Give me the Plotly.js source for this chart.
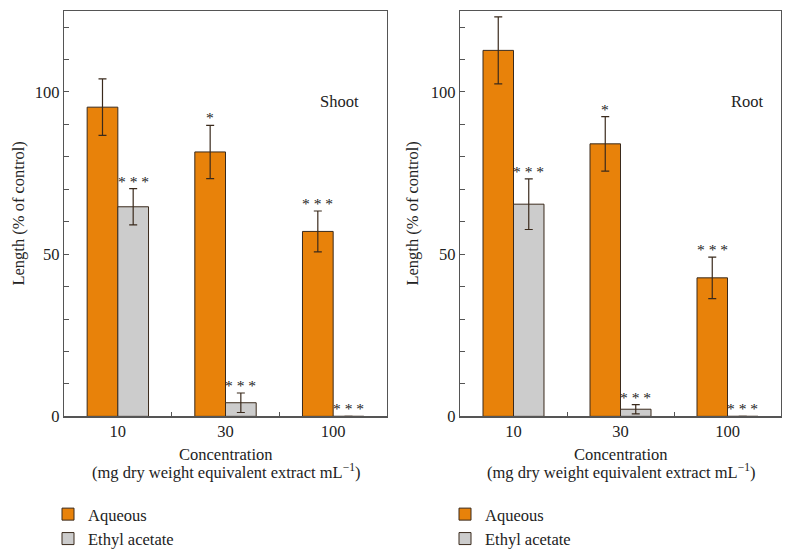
<!DOCTYPE html>
<html>
<head>
<meta charset="utf-8">
<script src="https://cdn.plot.ly/plotly-3.0.1.min.js"></script>
<style>
  html, body { margin: 0; padding: 0; background: #fff; }
  #graph { width: 791px; height: 556px; }
</style>
</head>
<body>
<div id="graph"></div>
<script>
const concentrations = ['10', '30', '100'];

// Shoot panel
const shootAqueous = [95.3, 81.5, 57.0];
const shootAqueousErr = [8.7, 8.2, 6.3];
const shootEthyl = [64.6, 4.2, 0];
const shootEthylErr = [5.6, 3.0, 0];
const shootAqueousSig = ['', '*', '* * *'];
const shootEthylSig = ['* * *', '* * *', '* * *'];

// Root panel
const rootAqueous = [112.8, 84.0, 42.7];
const rootAqueousErr = [10.3, 8.4, 6.4];
const rootEthyl = [65.4, 2.2, 0];
const rootEthylErr = [7.8, 1.4, 0];
const rootAqueousSig = ['', '*', '* * *'];
const rootEthylSig = ['* * *', '* * *', '* * *'];

const orange = '#E8820A';
const grey = '#CCCCCC';
const edge = '#3a2a1c';
const axisColor = '#555555';
const fontFamily = 'Liberation Serif, Times New Roman, serif';
const fs = 16.5;

const bargap = 0.43;
const barOffset = (1 - bargap) / 4;

function barTrace(name, values, errs, fill, xa, ya, legend) {
	return {
		type: 'bar',
		name: name,
		x: concentrations,
		y: values,
		xaxis: xa,
		yaxis: ya,
		legend: legend,
		marker: { color: fill, line: { color: edge, width: 1 } },
		error_y: { type: 'data', array: errs, visible: true, color: edge, thickness: 1.2, width: 4 }
	};
}

const data = [
	barTrace('Aqueous', shootAqueous, shootAqueousErr, orange, 'x', 'y', 'legend'),
	barTrace('Ethyl acetate', shootEthyl, shootEthylErr, grey, 'x', 'y', 'legend'),
	barTrace('Aqueous', rootAqueous, rootAqueousErr, orange, 'x2', 'y2', 'legend2'),
	barTrace('Ethyl acetate', rootEthyl, rootEthylErr, grey, 'x2', 'y2', 'legend2')
];

function starNotes(sig, values, errs, side, xref, yref) {
	return sig.map((s, i) => ({
		text: s,
		xref: xref,
		yref: yref,
		x: i + side * barOffset,
		y: values[i] + errs[i],
		xanchor: 'center',
		yanchor: 'bottom',
		yshift: -3,
		showarrow: false,
		font: { family: fontFamily, size: 15.5, color: '#222' }
	})).filter(a => a.text !== '');
}

const annotations = [
	...starNotes(shootAqueousSig, shootAqueous, shootAqueousErr, -1, 'x', 'y'),
	...starNotes(shootEthylSig, shootEthyl, shootEthylErr, 1, 'x', 'y'),
	...starNotes(rootAqueousSig, rootAqueous, rootAqueousErr, -1, 'x2', 'y2'),
	...starNotes(rootEthylSig, rootEthyl, rootEthylErr, 1, 'x2', 'y2')
];

const W = 791, H = 556;
function px(x) { return x / W; }
function py(y) { return 1 - y / H; }

function panelText(cx, label, lx, ly) {
	return [
		{ text: 'Length (% of control)', textangle: -90, xref: 'paper', yref: 'paper',
		  x: px(cx), y: py(217.5), xanchor: 'center', yanchor: 'middle', showarrow: false },
		{ text: 'Concentration', xref: 'paper', yref: 'paper',
		  x: px(lx), y: py(463), xanchor: 'center', yanchor: 'middle', showarrow: false },
		{ text: '(mg dry weight equivalent extract mL<sup>−1</sup>)', xref: 'paper', yref: 'paper',
		  x: px(lx), y: py(480), xanchor: 'center', yanchor: 'middle', showarrow: false },
		{ text: label, xref: 'paper', yref: 'paper',
		  x: px(ly), y: py(103), xanchor: 'right', yanchor: 'middle', showarrow: false }
	];
}

annotations.push(...panelText(19, 'Shoot', 225.5, 361));
annotations.push(...panelText(413, 'Root', 620.5, 766));

const xAxisBase = {
	type: 'category',
	range: [-0.5, 2.5],
	tickson: 'boundaries',
	ticks: 'inside',
	ticklen: 4,
	tickcolor: axisColor,
	showline: true,
	mirror: true,
	linecolor: axisColor,
	linewidth: 1.3,
	showgrid: false,
	tickfont: { family: fontFamily, size: fs, color: '#222' }
};

const yAxisBase = {
	range: [0, 125],
	tick0: 0,
	dtick: 50,
	ticks: 'inside',
	ticklen: 5,
	tickcolor: axisColor,
	minor: { dtick: 10, ticks: 'inside', ticklen: 5, tickcolor: axisColor, showgrid: false },
	showline: true,
	mirror: true,
	linecolor: axisColor,
	linewidth: 1.3,
	showgrid: false,
	zeroline: false,
	tickfont: { family: fontFamily, size: fs, color: '#222' }
};

const legendBase = {
	xanchor: 'left',
	yanchor: 'top',
	y: py(506),
	bgcolor: 'rgba(0,0,0,0)',
	font: { family: fontFamily, size: fs, color: '#222' },
	traceorder: 'normal'
};

const layout = {
	width: W,
	height: H,
	margin: { l: 0, r: 0, t: 0, b: 0 },
	paper_bgcolor: '#fff',
	plot_bgcolor: '#fff',
	font: { family: fontFamily, size: fs, color: '#222' },
	barmode: 'group',
	bargap: bargap,
	bargroupgap: 0,
	xaxis: Object.assign({}, xAxisBase, { domain: [px(64), px(387)], anchor: 'y' }),
	yaxis: Object.assign({}, yAxisBase, { domain: [py(424), py(11)], anchor: 'x' }),
	xaxis2: Object.assign({}, xAxisBase, { domain: [px(460), px(781)], anchor: 'y2' }),
	yaxis2: Object.assign({}, yAxisBase, { domain: [py(424), py(11)], anchor: 'x2' }),
	legend: Object.assign({}, legendBase, { x: px(48) }),
	legend2: Object.assign({}, legendBase, { x: px(445) }),
	annotations: annotations
};

Plotly.newPlot('graph', data, layout, { displayModeBar: false, staticPlot: true });
</script>
</body>
</html>
